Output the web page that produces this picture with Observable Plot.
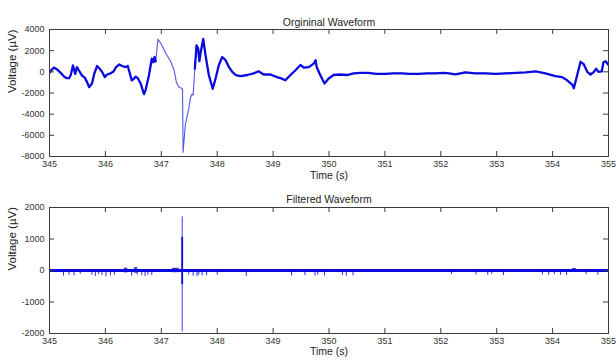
<!DOCTYPE html>
<html><head><meta charset="utf-8">
<script src="https://cdn.jsdelivr.net/npm/d3@7"></script>
<script src="https://cdn.jsdelivr.net/npm/@observablehq/plot@0.6"></script>
<style>
body{margin:0;background:#fff;}
#chart{width:616px;height:360px;}
#chart svg{display:block;overflow:visible;}
</style></head><body><div id="chart"></div>
<script>
// ---- data ----
const topTitle = "Orgininal Waveform";
const bottomTitle = "Filtered Waveform";
const xLabel = "Time (s)";
const yLabel = "Voltage (µV)";
const xTicks = [345, 346, 347, 348, 349, 350, 351, 352, 353, 354, 355];
const yTicksTop = [-8000, -6000, -4000, -2000, 0, 2000, 4000];
const yTicksBottom = [-2000, -1000, 0, 1000, 2000];

// original waveform (time s, voltage µV)
const origTime = [345.00,345.04,345.08,345.13,345.20,345.26,345.31,345.35,345.38,345.42,345.46,345.49,345.53,345.58,345.63,345.67,345.71,345.76,345.80,345.85,345.88,345.94,345.99,346.03,346.09,346.15,346.19,346.25,346.30,346.36,346.40,346.44,346.47,346.51,346.54,346.58,346.63,346.69,346.72,346.78,346.83,346.86,346.88,346.90,346.94,347.00,347.08,347.17,347.23,347.27,347.31,347.36,347.38,347.39,347.43,347.49,347.52,347.55,347.57,347.60,347.63,347.66,347.68,347.71,347.75,347.79,347.85,347.92,347.97,348.03,348.09,348.15,348.21,348.27,348.33,348.42,348.54,348.65,348.74,348.83,348.95,349.07,349.16,349.22,349.31,349.40,349.49,349.55,349.64,349.73,349.76,349.78,349.83,349.89,349.92,349.99,350.08,350.20,350.32,350.44,350.56,350.70,350.85,351.00,351.15,351.30,351.45,351.60,351.75,351.90,352.05,352.15,352.26,352.44,352.62,352.80,352.98,353.16,353.34,353.52,353.70,353.87,354.05,354.17,354.26,354.35,354.38,354.44,354.50,354.56,354.62,354.68,354.74,354.78,354.82,354.88,354.91,354.95,355.00];
const origVolt = [-100,200,400,250,-100,-450,-600,-600,-300,600,-200,450,100,-350,-550,-950,-1450,-1100,-200,550,400,0,-500,-250,-150,50,450,700,550,450,550,-200,-800,-650,-450,-600,-1100,-2100,-1700,-300,1250,900,1400,1000,3100,2600,1750,950,150,-1000,-1400,-1550,-1650,-7600,-5000,-3500,-2500,-2100,-2200,300,2500,2200,1000,2000,3100,1600,-300,-1600,-650,650,1400,1100,450,0,-300,-400,-300,-150,50,-250,-250,-500,-650,-800,-300,150,650,400,450,800,1100,450,-150,-800,-1100,-650,-300,-250,-300,-150,-100,-100,-200,-200,-150,-150,-200,-200,-150,-150,-100,-150,-250,-50,-150,-150,-200,-150,-100,-50,50,-150,-400,-500,-800,-1200,-1550,-300,950,700,0,-250,0,300,0,50,900,1000,650];
// time range where the trace moves fast and looks thin
const thinStart = 346.93, thinEnd = 347.58;

// filtered waveform: small spikes (time s, peak µV)
const spikeTime = [345.25,345.35,345.44,345.55,345.76,345.82,345.88,345.94,346.01,346.09,346.16,346.47,346.57,346.65,346.71,346.76,346.83,347.49,347.57,347.64,347.67,347.73,347.81,348.00,348.52,349.33,349.57,349.75,349.80,349.92,350.24,350.31,350.43,352.19,352.63,352.84,352.91,353.12,353.82,353.93,354.03,354.14,354.25,354.60,354.81];
const spikeVolt = [-180,-150,-170,-120,-150,-190,-130,-160,-200,-170,-150,-180,-140,-170,-190,-150,-160,-140,-180,-200,-150,-170,-160,-150,-190,-170,-160,-180,-150,-170,-160,-180,-170,-130,-140,-150,-120,-160,-140,-150,-130,-150,-160,-130,-150];
// short noise bursts (start s, end s, amplitude µV)
const burstStart = [346.34, 346.52, 347.20, 354.36];
const burstEnd   = [346.40, 346.58, 347.32, 354.42];
const burstAmp   = [75, 85, 70, 65];
// the large spike
const bigSpikeTime = [347.374];
const bigSpikeMin = [-1950];
const bigSpikeMax = [1700];
const bigSpikeCoreMin = [-450];
const bigSpikeCoreMax = [1050];

// ---- styles ----
const blue = "#0b0be0";
const axisColor = "#3c3c3c";
const font = "'Liberation Sans', Arial, Helvetica, sans-serif";
const W = 616, mL = 49, mR = 8;

function decorations(cfg) {
  const frameH = cfg.height - cfg.marginTop - cfg.marginBottom;
  const frameW = W - mL - mR;
  const tk = 5;
  return [
    Plot.frame({stroke: axisColor}),
    Plot.tickX(xTicks, {x: d => d, insetTop: frameH - tk, stroke: axisColor}),
    Plot.tickX(xTicks, {x: d => d, insetBottom: frameH - tk, stroke: axisColor}),
    Plot.tickY(cfg.yTicks, {y: d => d, insetRight: frameW - tk, stroke: axisColor}),
    Plot.tickY(cfg.yTicks, {y: d => d, insetLeft: frameW - tk, stroke: axisColor}),
    Plot.text([cfg.title], {text: d => d, frameAnchor: "top", dy: cfg.titleDy, fontSize: 10.5, fill: "#222"}),
    Plot.text([xLabel], {text: d => d, frameAnchor: "bottom", dy: cfg.xLabelDy, fontSize: 10.5, fill: "#222"}),
    Plot.text([yLabel], {text: d => d, frameAnchor: "left", dx: -37, rotate: -90, fontSize: 11.5, fill: "#222"})
  ];
}

function baseOpts(cfg) {
  return {
    width: W, height: cfg.height,
    marginLeft: mL, marginRight: mR, marginTop: cfg.marginTop, marginBottom: cfg.marginBottom,
    style: {fontFamily: font, fontSize: "9px", color: "#333", background: "white", overflow: "visible"},
    x: {domain: [345, 355], ticks: xTicks, tickFormat: d => String(d), tickSize: 0, tickPadding: 4, label: null},
    y: {domain: cfg.domain, ticks: cfg.yTicks, tickFormat: d => String(d), tickSize: 0, tickPadding: 5, label: null}
  };
}

// ---- top chart ----
const topCfg = {height: 184, marginTop: 29, marginBottom: 28, domain: [-8000, 4000], yTicks: yTicksTop,
  title: topTitle, titleDy: -11, xLabelDy: 22};
const origIdx = origTime.map((_, i) => i);
const topPlot = Plot.plot({
  ...baseOpts(topCfg),
  marks: [
    Plot.line(origIdx, {x: i => origTime[i], y: i => origVolt[i], stroke: blue, strokeWidth: 1.1, strokeOpacity: 0.7, clip: true}),
    Plot.line(origIdx, {x: i => origTime[i],
      y: i => (origTime[i] > thinStart && origTime[i] < thinEnd) ? NaN : origVolt[i],
      stroke: blue, strokeWidth: 2.3, clip: true}),
    ...decorations(topCfg)
  ]
});

// ---- bottom chart ----
const botCfg = {height: 176, marginTop: 23, marginBottom: 27, domain: [-2000, 2000], yTicks: yTicksBottom,
  title: bottomTitle, titleDy: -12, xLabelDy: 21};
const spikeIdx = spikeTime.map((_, i) => i);
const burstIdx = burstStart.map((_, i) => i);
const bigIdx = bigSpikeTime.map((_, i) => i);
const botPlot = Plot.plot({
  ...baseOpts(botCfg),
  marks: [
    Plot.ruleY([0], {stroke: blue, strokeWidth: 3.2}),
    Plot.ruleX(spikeIdx, {x: i => spikeTime[i], y1: 0, y2: i => spikeVolt[i], stroke: blue, strokeWidth: 1, strokeOpacity: 0.85}),
    Plot.rect(burstIdx, {x1: i => burstStart[i], x2: i => burstEnd[i], y1: i => -burstAmp[i], y2: i => burstAmp[i], fill: blue, fillOpacity: 0.85}),
    Plot.ruleX(bigIdx, {x: i => bigSpikeTime[i], y1: i => bigSpikeMin[i], y2: i => bigSpikeMax[i], stroke: blue, strokeWidth: 1, strokeOpacity: 0.8}),
    Plot.ruleX(bigIdx, {x: i => bigSpikeTime[i], y1: i => bigSpikeCoreMin[i], y2: i => bigSpikeCoreMax[i], stroke: blue, strokeWidth: 1.8}),
    ...decorations(botCfg)
  ]
});

const chart = document.getElementById("chart");
chart.appendChild(topPlot);
chart.appendChild(botPlot);
</script></body></html>
